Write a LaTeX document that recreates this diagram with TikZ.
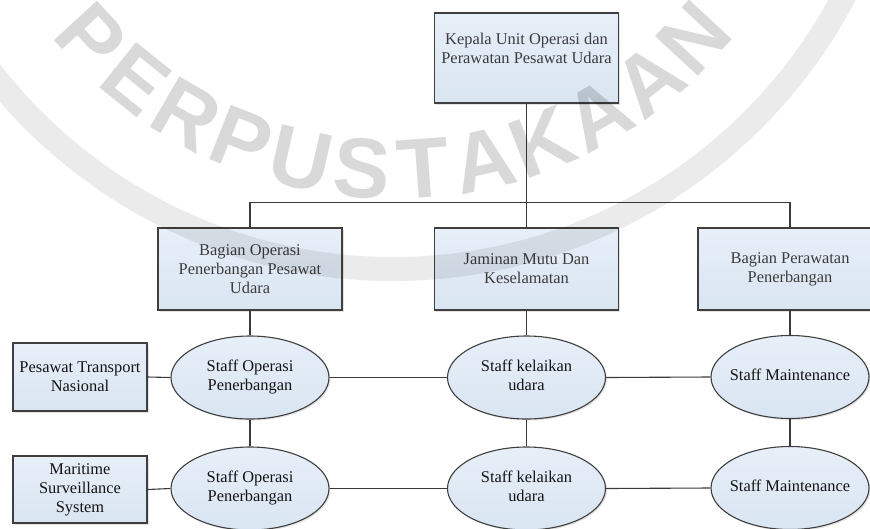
\documentclass[tikz,border=0pt]{standalone}
\usepackage{fontspec}
\setmainfont{Liberation Serif}
\newfontfamily\wmfont{Liberation Sans}
\usetikzlibrary{shapes.geometric,shadows}
\definecolor{boxline}{HTML}{3F3F3F}
\definecolor{boxtop}{HTML}{E7EFF8}
\definecolor{boxbot}{HTML}{D9E5F2}
\definecolor{txtgrey}{HTML}{3C3C3C}
\definecolor{txtdark}{HTML}{141414}
\definecolor{connline}{HTML}{3A3A3A}
\newcommand{\zw}[1]{\makebox[0pt]{\begin{tabular}{@{}c@{}}#1\end{tabular}}}

\begin{document}
\begin{tikzpicture}[x=1pt,y=-1pt,
  base/.style={draw=boxline, line width=1.1pt, top color=boxtop, bottom color=boxbot,
    inner sep=0pt, font=\fontsize{16.4}{19}\selectfont, align=center,
    drop shadow={opacity=0.22, shadow xshift=1.5pt, shadow yshift=-1.5pt}},
  unitbox/.style={base, rectangle, minimum width=184pt, minimum height=82pt, text=txtgrey},
  headbox/.style={base, rectangle, minimum width=184pt, minimum height=90pt, text=txtgrey},
  sidebox/.style={base, rectangle, minimum width=134pt, minimum height=68pt, text=txtdark},
  staffell/.style={base, ellipse, minimum width=158pt, minimum height=83pt, text=txtdark},
  conn/.style={draw=connline, line width=1.1pt},
  wm/.style={font=\wmfont\bfseries\fontsize{85}{85}\selectfont, text=black, text opacity=0.15, inner sep=0pt}
]
\useasboundingbox (0,0) rectangle (870,528);
\clip (0,0) rectangle (870,528);

% head
\node[headbox] (top) at (526.5,58) {Kepala Unit Operasi dan\\Perawatan Pesawat Udara\\\mbox{}};

% units
\node[unitbox] (b1) at (250,269) {Bagian Operasi\\Penerbangan Pesawat\\Udara};
\node[unitbox] (b2) at (526.5,269) {Jaminan Mutu Dan\\Keselamatan};
\node[unitbox] (b3) at (790,269) {Bagian Perawatan\\Penerbangan};

% side boxes
\node[sidebox] (p1) at (80,377) {Pesawat Transport\\Nasional};
\node[sidebox, minimum height=67pt] (p2) at (80,489.5) {Maritime\\Surveillance\\System};

% staff ellipses
\node[staffell] (e11) at (250,377.5) {\zw{Staff Operasi\\Penerbangan}};
\node[staffell] (e12) at (526.5,377.5) {\zw{Staff kelaikan\\udara}};
\node[staffell] (e13) at (790,377) {\zw{Staff Maintenance}};
\node[staffell] (e21) at (250,488.5) {\zw{Staff Operasi\\Penerbangan}};
\node[staffell] (e22) at (526.5,488.5) {\zw{Staff kelaikan\\udara}};
\node[staffell] (e23) at (790,488) {\zw{Staff Maintenance}};

% connectors
\coordinate (bus) at (0,202.5);
\draw[conn] (top.south) -- (top.south |- bus);
\draw[conn] (b1.north) -- (b1.north |- bus) -- (b3.north |- bus) -- (b3.north);
\draw[conn] (b2.north) -- (b2.north |- bus);

\draw[conn] (b1.south) -- (e11.north);
\draw[conn] (b2.south) -- (e12.north);
\draw[conn] (b3.south) -- (e13.north);
\draw[conn] (e11.south) -- (e21.north);
\draw[conn] (e12.south) -- (e22.north);
\draw[conn] (e13.south) -- (e23.north);

\draw[conn] (p1.east) -- (e11.west);
\draw[conn] (e11.east) -- (e12.west);
\draw[conn] (e12.east) -- (e13.west);
\draw[conn] (p2.east) -- (e21.west);
\draw[conn] (e21.east) -- (e22.west);
\draw[conn] (e22.east) -- (e23.west);

% watermark
\draw[line width=24pt, draw=black, draw opacity=0.08] (393,-240) circle[radius=509];
\foreach \l [count=\i from 0] in {P,E,R,P,U,S,T,A,K,A,A,N} {
  \pgfmathsetmacro\ang{137.4-8.6*\i}
  \node[wm, rotate=90-\ang] (w\i) at ({393+410*cos(\ang)},{-240+410*sin(\ang)}) {\l};
}
\end{tikzpicture}
\end{document}
